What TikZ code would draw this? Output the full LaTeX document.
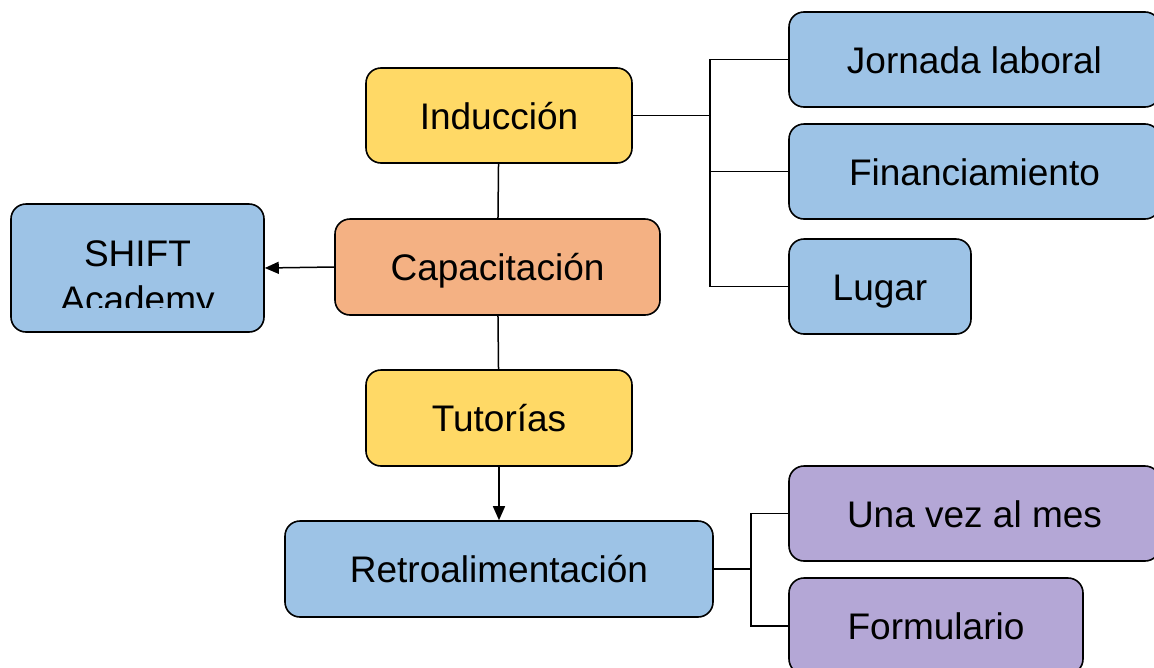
\documentclass[tikz,border=0pt]{standalone}
\usepackage{fontspec}
\setmainfont{Liberation Sans}
\usepackage{tikz}
\usetikzlibrary{arrows.meta, positioning, calc}
\definecolor{boxyellow}{RGB}{255,217,102}
\definecolor{boxorange}{RGB}{244,177,131}
\definecolor{boxblue}{RGB}{157,195,230}
\definecolor{boxpurple}{RGB}{180,167,214}
\tikzset{
	box/.style={draw=black, line width=1.6pt, rounded corners=15pt, inner sep=0pt,
		font=\fontsize{37}{47}\selectfont, text height=27pt, text depth=0pt},
	link/.style={line width=1.5pt},
	tip/.style={-{Triangle[length=14pt, width=12pt]}}
}
\begin{document}
\begin{tikzpicture}[x=1pt, y=-1pt]
			\useasboundingbox (0,0) rectangle (1154,667);
			\clip (0,0) rectangle (1154,667);
			% Central column
			\node[box, fill=boxyellow, minimum width=266pt, minimum height=95pt] (ind) at (499,115.5) {Inducción};
			\node[box, fill=boxorange, minimum width=325pt, minimum height=96pt] (cap) at (497.5,267) {Capacitación};
			\node[box, fill=boxyellow, minimum width=266pt, minimum height=96pt] (tut) at (499,418) {Tutorías};
			\node[box, fill=boxblue, minimum width=428pt, minimum height=96pt] (ret) at (499,569) {Retroalimentación};
			
			% Left box, its text is cut off
			\node[box, fill=boxblue, minimum width=253pt, minimum height=128pt] (shift) at (137.5,268) {};
			\begin{scope}
				\clip (20,210) rectangle (255,307);
				\node[align=center, inner sep=0pt, font=\fontsize{37}{46}\selectfont, anchor=base] (shifttext) at (137.5,312) {SHIFT\\Academy};
			\end{scope}
			
			% Right boxes
			\node[box, fill=boxblue, minimum width=371pt, minimum height=95pt] (jor) at (974.5,59.5) {Jornada laboral};
			\node[box, fill=boxblue, minimum width=371pt, minimum height=95pt] (fin) at (974.5,171.5) {Financiamiento};
			\node[box, fill=boxblue, minimum width=182pt, minimum height=95pt] (lug) at (880,286.5) {Lugar};
			\node[box, fill=boxpurple, minimum width=371pt, minimum height=95pt] (una) at (974.5,513.5) {Una vez al mes};
			\node[box, fill=boxpurple, minimum width=294pt, minimum height=96pt] (form) at (936,626) {Formulario};
			
			% Connectors
			\coordinate (fork1) at (710,115.5);
			\coordinate (fork2) at (751,569);
			\draw[link] (ind) -- (cap);
			\draw[link] (cap) -- (tut);
			\draw[link, tip] (tut) -- (ret);
			\draw[link, tip] (cap.west) -- (shift.east);
			\draw[link] (ind.east) -- (fork1);
			\foreach \b in {jor, fin, lug} {
				\draw[link] (\b.west) -| (fork1);
			}
			\draw[link] (ret.east) -- (fork2);
			\foreach \b in {una, form} {
				\draw[link] (\b.west) -| (fork2);
			}
		\end{tikzpicture}
\end{document}
